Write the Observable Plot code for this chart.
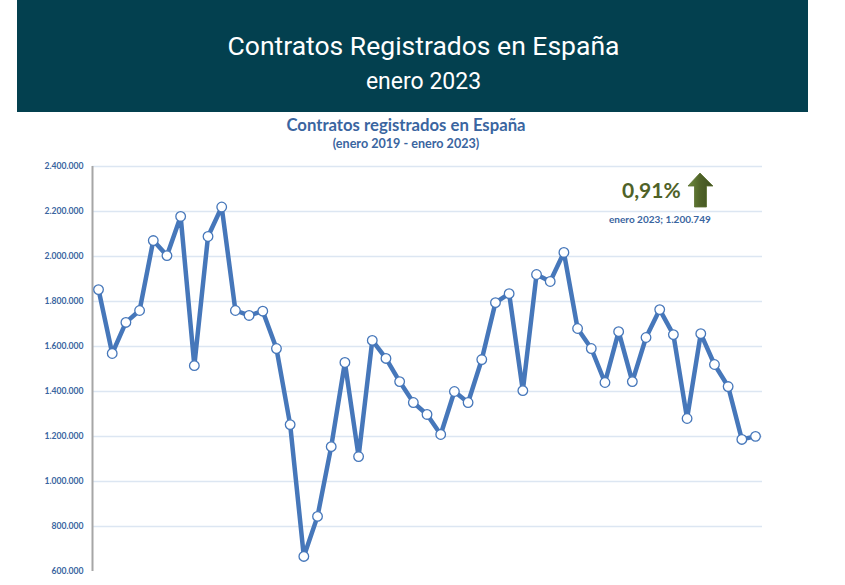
<!DOCTYPE html>
<html>
<head>
<meta charset="utf-8">
<script src="https://cdn.jsdelivr.net/npm/d3@7"></script>
<script src="https://cdn.jsdelivr.net/npm/@observablehq/plot@0.6"></script>
<style>
  html, body { margin: 0; padding: 0; background: #fff; }
  #page { position: relative; width: 845px; height: 585px; overflow: hidden; font-family: Lato, "Open Sans", sans-serif; }
  #header { position: absolute; left: 17px; top: 0; width: 791px; height: 112px; background: #03404F; color: #fff; text-align: center; font-family: Roboto, "Open Sans", sans-serif; }
  #header .t1 { position: absolute; left: 22px; right: 0; top: 30px; font-size: 26.5px; line-height: 32px; }
  #header .t2 { position: absolute; left: 22px; right: 0; top: 68px; font-size: 23px; line-height: 28px; }
  #ctitle { position: absolute; left: 0; width: 812px; top: 115px; text-align: center; color: #3A65A0; font-weight: bold; font-size: 16.7px; line-height: 20px; }
  #csub { position: absolute; left: 0; width: 812px; top: 136px; text-align: center; color: #3A65A0; font-weight: bold; font-size: 12.6px; line-height: 16px; }
  #chart { position: absolute; left: 0; top: 155px; }
  #pct { position: absolute; left: 622px; top: 177px; color: #4F6228; font-weight: bold; font-size: 21px; line-height: 26px; }
  #arrow { position: absolute; left: 687px; top: 172px; }
  #note { position: absolute; left: 609px; top: 212px; color: #3A65A0; font-weight: bold; font-size: 10px; line-height: 14px; }
</style>
</head>
<body>
<div id="page">
  <div id="header">
    <div class="t1">Contratos Registrados en España</div>
    <div class="t2">enero 2023</div>
  </div>
  <div id="ctitle">Contratos registrados en España</div>
  <div id="csub">(enero 2019 - enero 2023)</div>
  <div id="chart"></div>
  <div id="pct">0,91%</div>
  <svg id="arrow" width="28" height="38" viewBox="0 0 28 38">
    <defs>
      <linearGradient id="ag" x1="0" x2="1" y1="0" y2="0">
        <stop offset="0" stop-color="#6E8B3D"/>
        <stop offset="0.5" stop-color="#4F6228"/>
        <stop offset="1" stop-color="#3F5020"/>
      </linearGradient>
    </defs>
    <polygon points="13,1 26,14 19.5,14 19.5,35 7.5,35 7.5,14 1,14" fill="url(#ag)" stroke="#5A7030" stroke-width="0.8"/>
  </svg>
  <div id="note">enero 2023; 1.200.749</div>
</div>
<script>
// Months: enero 2019 - enero 2023
const months = [
  "ene-19","feb-19","mar-19","abr-19","may-19","jun-19","jul-19","ago-19","sep-19","oct-19","nov-19","dic-19",
  "ene-20","feb-20","mar-20","abr-20","may-20","jun-20","jul-20","ago-20","sep-20","oct-20","nov-20","dic-20",
  "ene-21","feb-21","mar-21","abr-21","may-21","jun-21","jul-21","ago-21","sep-21","oct-21","nov-21","dic-21",
  "ene-22","feb-22","mar-22","abr-22","may-22","jun-22","jul-22","ago-22","sep-22","oct-22","nov-22","dic-22",
  "ene-23"
];
const contratos = [
  1853000, 1569000, 1707000, 1760000, 2071000, 2004000, 2178000, 1515000, 2089000, 2220000, 1760000, 1738000,
  1757000, 1591000, 1253000, 667000, 845000, 1155000, 1529000, 1111000, 1627000, 1547000, 1444000, 1351000,
  1298000, 1209000, 1400000, 1351000, 1542000, 1795000, 1835000, 1404000, 1920000, 1889000, 2018000, 1680000,
  1591000, 1440000, 1666000, 1444000, 1640000, 1764000, 1653000, 1280000, 1657000, 1520000, 1422000, 1187000,
  1200749
];
const yTicks = [600000, 800000, 1000000, 1200000, 1400000, 1600000, 1800000, 2000000, 2200000, 2400000];

const data = months.map((m, i) => ({i, mes: m, valor: contratos[i]}));
const loc = d3.formatLocale({decimal: ",", thousands: ".", grouping: [3], currency: ["", " €"]});
const fmt = loc.format(",d");

const xMin = -0.44, xMax = months.length - 1 + 0.51;
const blue = "#4677BA";

const chart = Plot.plot({
  width: 845,
  height: 430,
  marginLeft: 92,
  marginRight: 83,
  marginTop: 11,
  marginBottom: 14,
  style: {fontFamily: "Lato, 'Open Sans', sans-serif", background: "transparent"},
  x: {domain: [xMin, xMax], axis: null, label: null},
  y: {domain: [600000, 2400000], axis: null, label: null},
  marks: [
    Plot.ruleY(yTicks.slice(1), {x1: xMin, x2: xMax, stroke: "#DCE6F2", strokeWidth: 1.5}),
    Plot.ruleX([xMin], {y1: 600000, y2: 2400000, stroke: "#A6A6A6", strokeWidth: 2}),
    Plot.axisY(yTicks, {tickFormat: fmt, tickSize: 0, tickPadding: 9, fontSize: 8.6, fontWeight: "bold", fill: "#3A65A0", anchor: "left", label: null}),
    Plot.line(data, {x: "i", y: "valor", stroke: blue, strokeWidth: 4.5, strokeLinejoin: "round"}),
    Plot.dot(data, {x: "i", y: "valor", r: 4.8, fill: "white", stroke: blue, strokeWidth: 1.3})
  ]
});
document.getElementById("chart").appendChild(chart);
</script>
</body>
</html>
